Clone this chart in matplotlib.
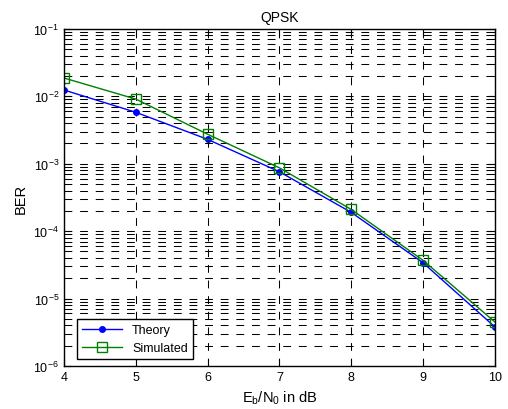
import matplotlib
matplotlib.use('Agg')
import matplotlib.pyplot as plt
from matplotlib.ticker import LogLocator, NullFormatter

plt.rcParams['font.family'] = ['Liberation Sans', 'DejaVu Sans']
plt.rcParams['mathtext.fontset'] = 'custom'
plt.rcParams['mathtext.rm'] = 'Liberation Sans'
plt.rcParams['mathtext.it'] = 'Liberation Sans'

ebn0_db = [4, 5, 6, 7, 8, 9, 10]
ber_theory = [1.24e-2, 5.8e-3, 2.3e-3, 7.6e-4, 1.9e-4, 3.4e-5, 3.8e-6]
ber_sim = [1.87e-2, 9.1e-3, 2.74e-3, 8.7e-4, 2.1e-4, 3.7e-5, 4.5e-6]


def main():
    fig = plt.figure(figsize=(5.08, 4.10), dpi=100)
    ax = fig.add_axes([0.126, 0.105, 0.848, 0.822])
    ax.semilogy(ebn0_db, ber_theory, color='blue', marker='.', markersize=8,
                linewidth=1, label='Theory')
    ax.semilogy(ebn0_db, ber_sim, color='green', marker='s', markersize=7,
                fillstyle='none', markeredgewidth=1, linewidth=1, label='Simulated')
    ax.set_xlim(4, 10)
    ax.set_ylim(1e-6, 1e-1)
    ax.yaxis.set_major_locator(LogLocator(base=10, numticks=10))
    ax.yaxis.set_minor_locator(LogLocator(base=10, subs=range(2, 10), numticks=20))
    ax.yaxis.set_minor_formatter(NullFormatter())
    dash = (0, (7.5, 7.5))
    ax.grid(True, which='major', color='black', linestyle=dash, linewidth=0.75)
    ax.grid(True, which='minor', axis='y', color='black', linestyle=dash, linewidth=0.75)
    ax.tick_params(which='both', direction='in', top=True, right=True, labelsize=9)
    ax.tick_params(which='major', length=5)
    ax.tick_params(which='minor', length=3)
    for s in ax.spines.values():
        s.set_linewidth(1)
    ax.set_title('QPSK', fontsize=10, pad=6)
    ax.set_xlabel('E$_b$/N$_0$ in dB', fontsize=10.5)
    ax.set_ylabel('BER', fontsize=10.5)
    leg = ax.legend(loc='lower left', bbox_to_anchor=(0.03, 0.02), fancybox=False,
                    edgecolor='black', framealpha=1, fontsize=9, handlelength=3.2,
                    borderaxespad=0)
    leg.get_frame().set_linewidth(1)
    fig.savefig('out.png', dpi=100)


if __name__ == '__main__':
    main()
